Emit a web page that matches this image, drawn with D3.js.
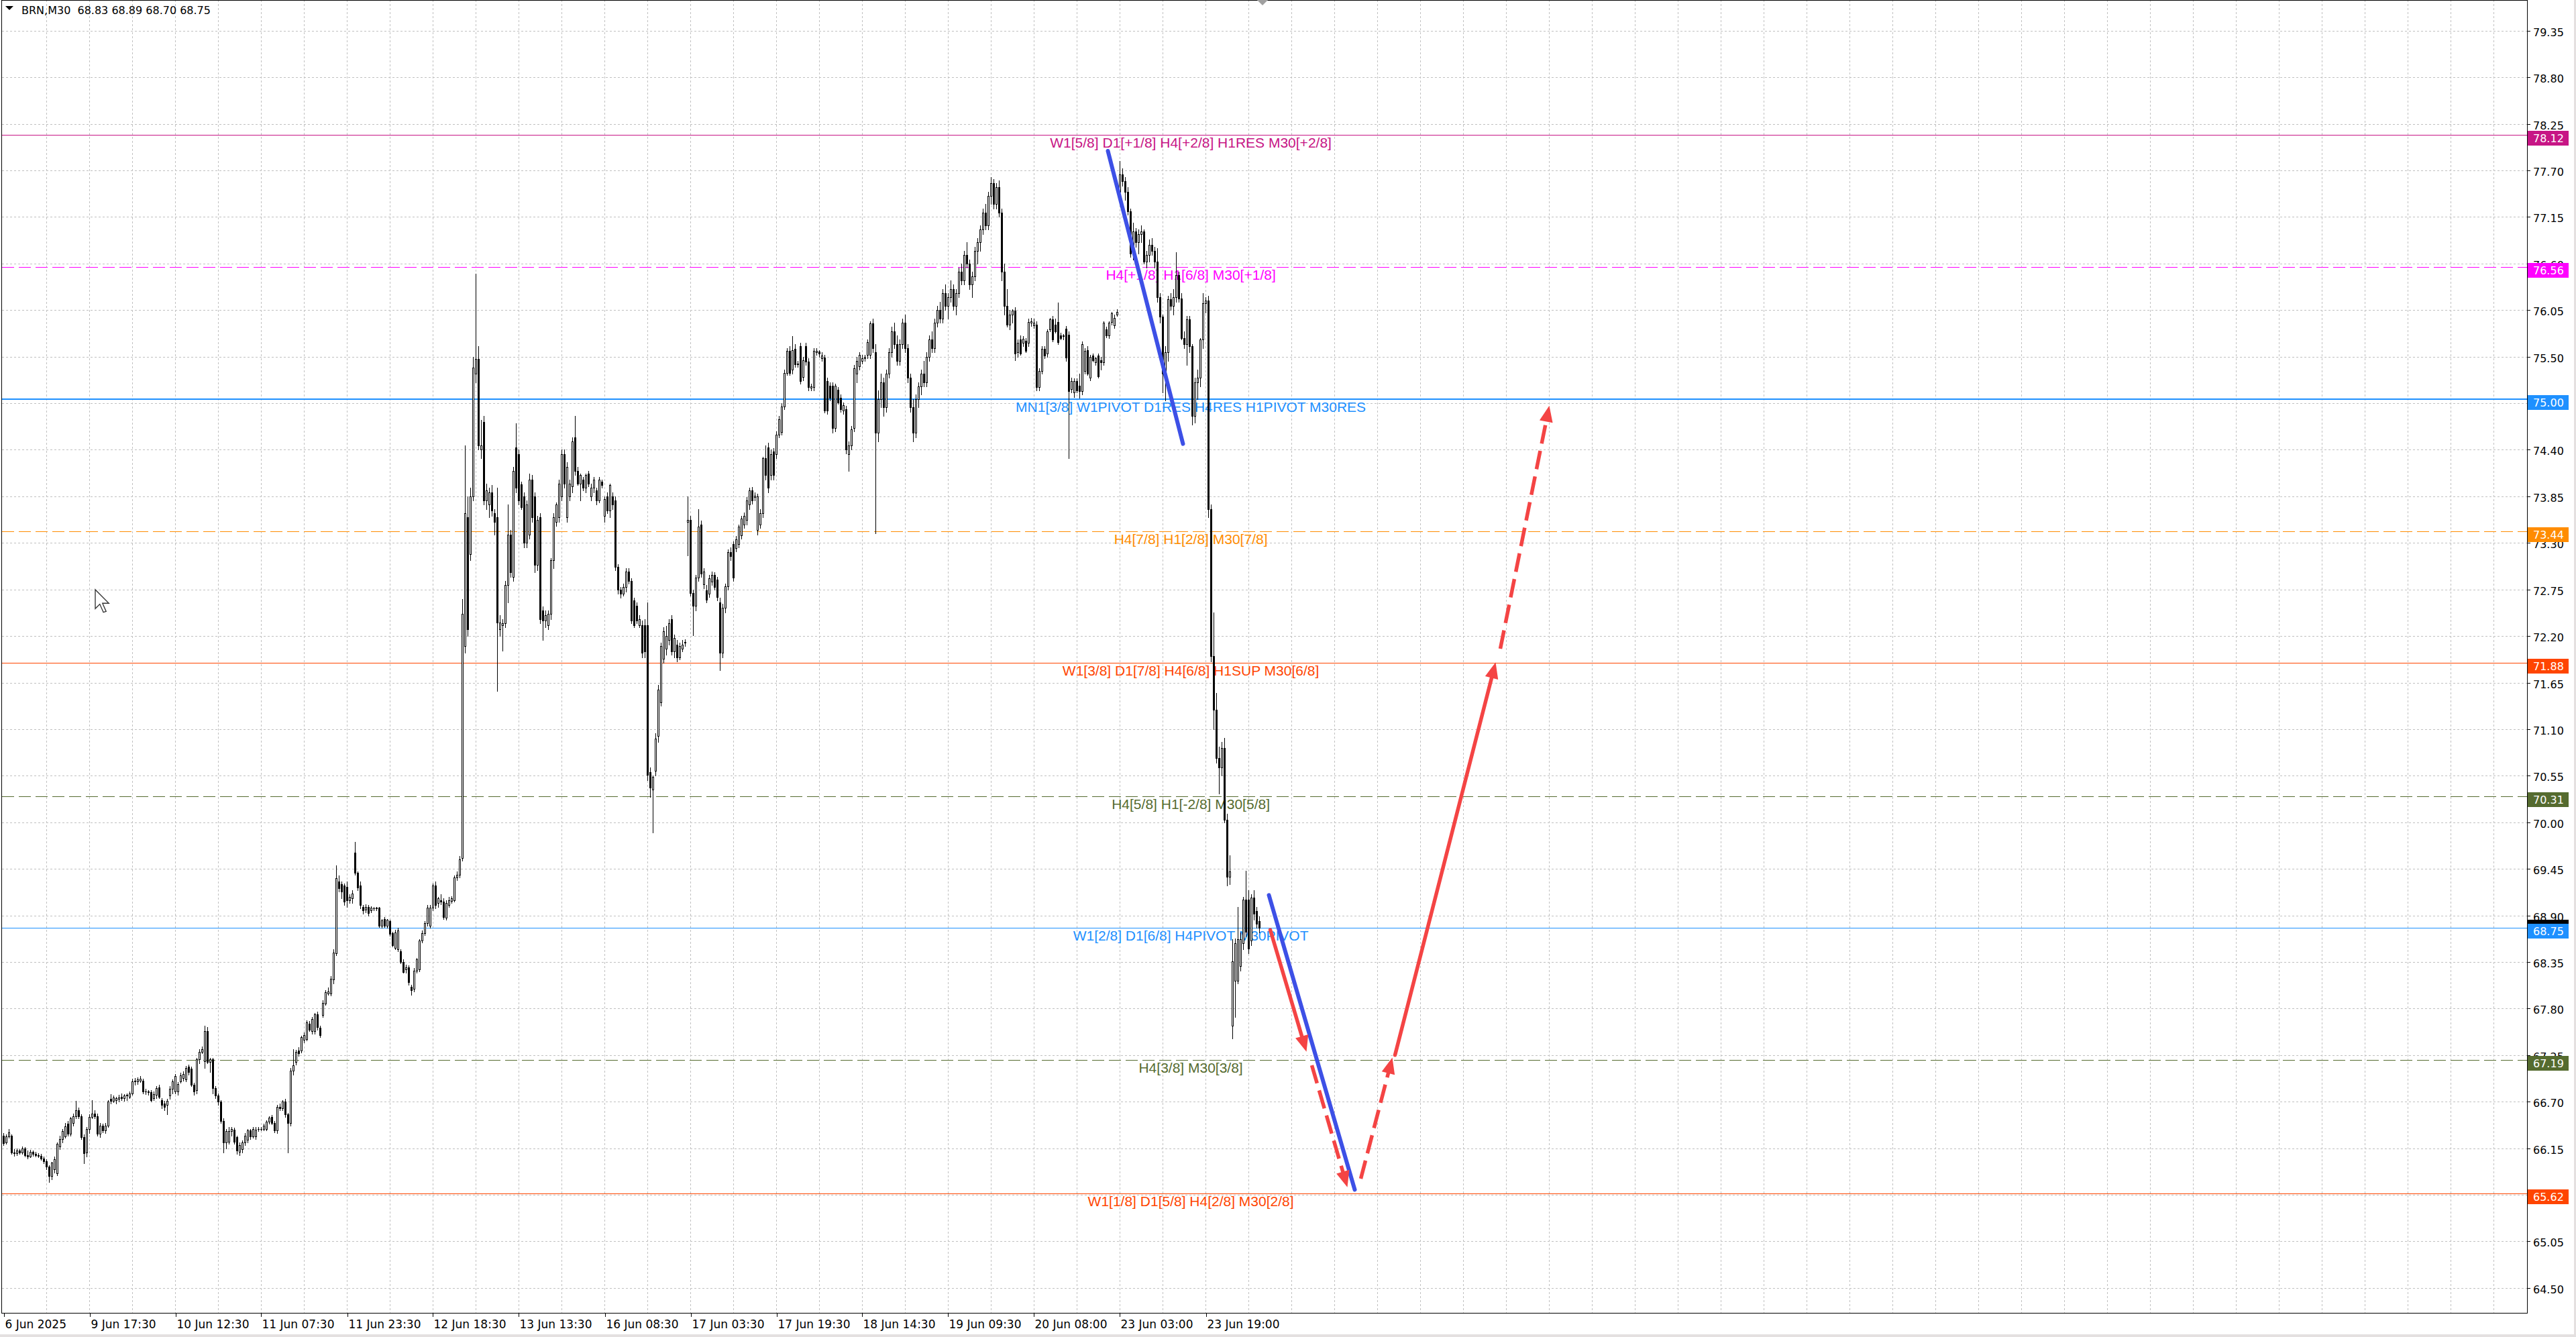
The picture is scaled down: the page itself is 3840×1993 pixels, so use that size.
<!DOCTYPE html>
<html><head><meta charset="utf-8">
<script src="https://cdn.jsdelivr.net/npm/d3@7"></script>
<style>html,body{margin:0;padding:0;background:#fff;overflow:hidden}</style>
</head><body><svg id="c" width="3840" height="1993" xmlns="http://www.w3.org/2000/svg"></svg>
<script>
// ---------------- DATA ----------------
const symbolTitle = "BRN,M30  68.83 68.89 68.70 68.75";
const opens = [
66.30,66.22,66.29,66.30,66.10,66.09,66.12,66.10,66.15,66.07,
66.05,66.11,66.08,66.07,66.06,66.03,66.00,65.93,65.82,65.90,
65.85,66.17,66.26,66.29,66.44,66.32,66.45,66.53,66.60,66.53,
66.28,66.10,66.38,66.52,66.56,66.53,66.32,66.42,66.36,66.42,
66.73,66.71,66.72,66.73,66.76,66.74,66.77,66.76,66.80,66.94,
66.94,66.95,66.95,66.82,66.82,66.81,66.74,66.78,66.87,66.72,
66.68,66.66,66.77,66.85,66.82,66.82,66.94,66.98,66.96,67.11,
67.09,66.90,66.84,67.20,67.29,67.18,67.53,67.17,67.20,66.86,
66.77,66.70,66.47,66.22,66.23,66.35,66.37,66.28,66.11,66.14,
66.22,66.25,66.36,66.29,66.29,66.38,66.38,66.38,66.38,66.46,
66.52,66.45,66.36,66.64,66.62,66.70,66.55,66.45,67.07,67.17,
67.30,67.30,67.43,67.44,67.62,67.53,67.53,67.73,67.57,67.72,
67.86,67.98,67.98,68.14,68.45,69.30,69.27,69.25,69.24,69.08,
69.10,69.64,69.40,69.25,69.00,68.97,69.00,68.96,68.98,68.98,
68.99,68.78,68.86,68.78,68.83,68.69,68.52,68.50,68.48,68.35,
68.26,68.29,68.06,68.03,68.25,68.26,68.60,68.69,68.81,68.78,
68.99,69.25,69.05,69.08,69.06,68.87,69.02,69.07,69.08,69.35,
69.38,69.58,72.08,73.60,73.17,73.85,75.30,75.47,74.40,74.73,
73.80,73.75,73.90,73.65,73.60,72.28,72.33,72.35,72.80,73.40,
72.90,74.43,74.35,73.99,73.85,73.30,73.40,74.05,73.85,73.04,
73.60,72.50,72.38,72.33,72.46,73.10,73.55,73.60,73.85,74.35,
73.60,73.85,73.97,74.55,74.15,74.00,74.05,73.95,74.12,73.85,
73.95,73.92,73.80,74.02,73.62,73.85,73.68,73.85,73.80,73.02,
72.75,72.70,72.78,72.96,72.85,72.62,72.56,72.33,72.33,72.33,
72.33,70.59,70.39,70.61,71.02,71.42,71.93,72.05,72.15,72.40,
72.02,72.10,71.95,72.05,72.12,73.55,73.57,72.71,72.56,72.89,
73.52,72.81,72.74,72.70,72.84,72.92,72.87,72.60,72.00,72.53,
72.79,73.19,73.29,73.24,73.29,73.39,73.52,73.57,73.75,73.92,
73.84,73.45,73.52,73.65,74.30,74.43,74.10,74.38,74.35,74.58,
74.61,74.91,75.31,75.57,75.35,75.59,75.41,75.62,75.26,75.62,
75.44,75.13,75.14,75.55,75.56,75.48,75.49,75.21,75.16,75.16,
74.66,75.11,75.01,74.86,74.88,74.35,74.45,74.66,75.30,75.39,
75.45,75.48,75.52,75.52,75.89,75.55,74.60,75.00,75.20,74.90,
75.30,75.55,75.80,75.65,75.45,75.65,75.90,75.60,75.25,74.90,
74.60,75.00,75.15,75.30,75.20,75.50,75.70,75.60,75.90,76.05,
75.95,76.25,76.10,76.20,76.30,76.10,76.25,76.50,76.40,76.70,
76.60,76.35,76.45,76.75,76.85,77.00,77.20,77.05,77.40,77.55,
77.30,77.50,77.20,76.50,76.10,75.88,76.00,76.04,75.55,75.70,
75.66,75.69,75.66,75.90,75.87,75.88,75.14,75.33,75.59,75.54,
75.82,75.94,75.88,75.91,75.75,75.74,75.83,75.76,75.12,75.08,
75.21,75.16,75.09,75.33,75.58,75.25,75.51,75.43,75.51,75.46,
75.43,75.82,75.75,75.91,75.87,76.00,77.45,77.65,77.57,77.45,
77.22,76.72,76.98,76.85,76.95,76.98,76.62,76.70,76.82,76.75,
76.62,76.20,75.97,75.30,75.55,76.18,76.10,76.20,76.46,76.19,
75.72,75.65,75.94,75.62,74.80,75.20,75.25,75.70,76.13,76.16,
73.70,71.96,71.33,70.76,70.65,70.88,70.03,69.36,67.60,68.13,
68.13,68.30,68.57,69.09,69.09,68.60,69.11,68.95,68.83];
const highs = [
66.33,66.31,66.38,66.31,66.14,66.15,66.14,66.17,66.16,66.12,
66.13,66.12,66.11,66.09,66.08,66.05,66.02,65.95,65.99,66.05,
66.22,66.30,66.38,66.45,66.47,66.52,66.56,66.71,66.63,66.55,
66.31,66.40,66.55,66.72,66.60,66.56,66.45,66.44,66.45,66.72,
66.79,66.77,66.76,66.78,66.80,66.79,66.80,66.82,66.97,66.98,
66.99,67.00,66.97,66.85,66.84,66.84,66.82,66.88,66.90,66.74,
66.71,66.73,66.88,66.96,67.03,66.93,67.04,67.06,67.12,67.14,
67.11,66.92,67.22,67.32,67.35,67.60,67.58,67.22,67.22,66.88,
66.80,66.72,66.50,66.38,66.40,66.40,66.39,66.30,66.22,66.24,
66.33,66.38,66.38,66.40,66.40,66.40,66.40,66.44,66.48,66.53,
66.54,66.47,66.66,66.68,66.72,66.73,66.57,67.10,67.32,67.31,
67.34,67.48,67.52,67.66,67.65,67.70,67.75,67.76,67.60,67.90,
68.02,68.05,68.18,68.50,69.49,69.37,69.30,69.28,69.30,69.15,
69.20,69.77,69.42,69.30,69.02,69.03,69.02,69.01,69.00,69.00,
69.00,68.86,68.88,68.86,68.85,68.71,68.73,68.75,68.50,68.38,
68.32,68.31,68.08,68.28,68.40,68.62,68.72,68.83,69.02,69.02,
69.28,69.30,69.12,69.15,69.10,69.08,69.12,69.13,69.37,69.42,
69.60,72.64,74.45,73.85,73.95,75.50,76.48,75.62,74.75,74.80,
74.00,73.95,73.98,73.70,73.95,72.45,72.40,72.85,73.75,73.45,
74.20,74.71,74.40,74.02,73.90,73.80,74.12,74.10,73.90,73.62,
73.65,72.55,72.50,72.50,73.12,73.65,73.78,74.05,74.40,74.40,
74.25,74.05,74.55,74.80,74.20,74.12,74.08,74.12,74.15,74.00,
74.08,73.95,74.08,74.05,73.85,73.90,74.00,73.90,73.85,73.05,
72.78,72.82,73.00,73.00,72.88,72.65,72.60,72.45,72.38,72.40,
72.60,70.65,70.55,71.05,71.62,72.12,72.30,72.32,72.40,72.45,
72.22,72.15,72.12,72.15,72.16,73.85,73.62,72.75,72.92,73.70,
73.56,73.00,72.80,72.92,72.96,72.95,72.90,72.65,72.58,72.82,
73.22,73.25,73.32,73.38,73.52,73.62,73.66,73.84,73.95,73.96,
73.90,73.88,73.70,74.32,74.45,74.48,74.40,74.42,74.62,74.80,
74.95,75.35,75.60,75.62,75.74,75.65,75.45,75.66,75.50,75.66,
75.48,75.18,75.60,75.60,75.58,75.55,75.52,75.25,75.20,75.20,
75.18,75.14,75.05,74.96,74.92,74.50,74.68,75.40,75.50,75.55,
75.52,75.52,75.70,75.92,75.95,75.65,75.10,75.30,75.25,75.35,
75.60,75.85,75.90,75.75,75.70,75.95,76.00,75.65,75.30,75.00,
75.05,75.20,75.35,75.45,75.55,75.75,75.80,75.95,76.10,76.15,
76.30,76.35,76.25,76.40,76.35,76.30,76.55,76.60,76.75,76.85,
76.65,76.50,76.80,76.90,77.05,77.25,77.30,77.45,77.62,77.60,
77.55,77.58,77.25,76.60,76.30,76.05,76.06,76.08,75.70,75.75,
75.74,75.72,75.95,75.96,75.95,75.92,75.36,75.62,75.62,75.82,
75.96,75.98,75.95,76.14,75.78,75.77,75.86,75.80,75.25,75.24,
75.24,75.30,75.68,75.60,75.62,75.52,75.54,75.50,75.54,75.50,
75.92,75.85,75.92,76.03,76.00,76.06,77.81,77.72,77.62,77.50,
77.25,77.08,77.02,77.00,77.05,77.00,76.75,76.88,76.90,76.80,
76.78,76.25,76.00,75.62,76.22,76.25,76.30,76.73,76.50,76.25,
75.80,75.98,75.98,75.65,75.25,75.35,75.72,76.25,76.20,76.22,
73.75,72.48,71.53,70.89,70.95,71.00,70.10,69.61,68.62,68.63,
69.00,68.70,69.12,69.43,69.20,69.15,69.20,69.00,68.89];
const lows = [
66.19,66.20,66.27,66.08,66.06,66.07,66.08,66.08,66.05,66.03,
66.04,66.06,66.05,66.04,66.01,65.97,65.90,65.75,65.78,65.86,
65.83,66.14,66.22,66.27,66.30,66.30,66.42,66.50,66.50,66.26,
65.97,66.05,66.33,66.50,66.50,66.30,66.28,66.34,66.33,66.40,
66.68,66.69,66.68,66.70,66.72,66.71,66.72,66.74,66.78,66.90,
66.91,66.93,66.80,66.79,66.78,66.70,66.72,66.74,66.74,66.62,
66.60,66.55,66.73,66.80,66.80,66.78,66.92,66.95,66.94,67.02,
66.88,66.78,66.80,67.15,67.27,67.10,67.15,67.05,66.80,66.74,
66.66,66.45,66.10,66.15,66.20,66.30,66.20,66.08,66.07,66.10,
66.19,66.22,66.26,66.27,66.26,66.35,66.36,66.36,66.36,66.44,
66.43,66.34,66.33,66.60,66.60,66.52,66.10,66.42,67.02,67.14,
67.24,67.28,67.40,67.42,67.53,67.50,67.50,67.55,67.46,67.70,
67.84,67.96,67.95,68.10,68.43,69.18,69.10,69.02,69.00,69.05,
69.05,69.38,69.20,68.98,68.92,68.94,68.90,68.94,68.96,68.96,
68.76,68.75,68.76,68.75,68.66,68.53,68.50,68.48,68.33,68.22,
68.22,68.08,67.96,68.00,68.22,68.24,68.58,68.67,68.78,68.75,
68.96,68.98,69.00,69.03,68.86,68.85,69.00,69.05,69.06,69.32,
69.35,69.55,72.00,72.20,73.10,73.80,75.20,74.40,74.30,73.75,
73.70,73.60,73.62,73.40,71.55,72.20,72.03,72.30,72.60,72.90,
72.85,73.90,73.75,73.70,73.25,73.25,73.35,73.55,72.95,72.98,
72.35,72.15,72.30,72.28,72.40,73.00,73.50,73.55,73.80,73.95,
73.55,73.80,73.90,74.10,73.98,73.80,73.92,73.90,73.97,73.80,
73.90,73.75,73.78,73.95,73.55,73.65,73.60,73.70,72.98,72.70,
72.65,72.68,72.72,72.82,72.35,72.30,72.35,72.30,71.95,71.95,
70.50,70.30,69.88,70.55,70.95,71.38,71.88,71.98,72.10,71.98,
71.95,71.90,71.92,72.02,72.08,73.15,72.68,72.21,72.50,72.85,
72.90,72.76,72.60,72.66,72.80,72.75,72.62,71.80,71.95,72.48,
72.75,73.10,72.85,73.20,73.25,73.35,73.48,73.52,73.70,73.76,
73.80,73.40,73.48,73.60,74.05,73.90,74.05,74.05,74.30,74.55,
74.58,74.88,75.28,75.28,75.30,75.38,75.38,75.18,75.22,75.40,
75.10,75.10,75.10,75.52,75.50,75.45,74.84,74.82,74.98,74.60,
74.62,74.94,74.85,74.82,74.36,74.15,74.40,74.62,75.20,75.35,
75.42,75.45,75.48,75.48,75.55,73.41,74.50,74.90,74.80,74.85,
75.25,75.50,75.60,75.40,75.40,75.60,75.55,75.20,74.85,74.50,
74.55,74.90,75.05,75.15,75.15,75.45,75.55,75.55,75.85,75.90,
75.90,76.05,75.95,76.15,76.05,76.00,76.20,76.35,76.35,76.55,
76.30,76.20,76.40,76.60,76.75,76.95,77.00,77.00,77.30,77.25,
77.25,77.15,76.40,76.00,75.85,75.82,75.90,75.46,75.50,75.52,
75.62,75.55,75.62,75.86,75.84,75.10,75.10,75.30,75.48,75.50,
75.80,75.68,75.78,75.65,75.70,75.70,75.45,74.30,75.08,75.02,
75.08,75.01,75.05,75.30,75.28,75.22,75.44,75.40,75.25,75.35,
75.40,75.73,75.72,75.88,75.84,75.98,77.40,77.52,77.35,77.18,
76.68,76.65,76.80,76.72,76.85,76.60,76.55,76.62,76.70,76.55,
76.15,75.90,75.08,74.98,75.45,76.05,76.00,76.15,76.15,75.70,
75.60,75.40,75.55,74.70,74.72,75.00,75.15,75.60,76.02,73.60,
71.90,71.10,70.70,70.34,70.55,70.00,69.25,69.27,67.45,67.70,
68.10,68.25,68.50,68.65,68.45,68.55,68.85,68.75,68.70];
const closes = [
66.21,66.29,66.34,66.10,66.09,66.12,66.10,66.15,66.07,66.05,
66.11,66.08,66.07,66.06,66.03,66.00,65.93,65.82,65.98,66.02,
66.20,66.26,66.35,66.41,66.32,66.50,66.53,66.60,66.53,66.28,
66.09,66.38,66.52,66.56,66.53,66.32,66.42,66.36,66.42,66.70,
66.71,66.75,66.74,66.75,66.74,66.77,66.78,66.80,66.94,66.95,
66.96,66.97,66.82,66.82,66.81,66.72,66.79,66.86,66.76,66.66,
66.64,66.71,66.85,66.94,67.00,66.91,67.01,67.03,67.10,67.05,
66.90,66.82,67.20,67.29,67.32,67.53,67.17,67.20,66.86,66.77,
66.70,66.47,66.22,66.35,66.35,66.38,66.23,66.12,66.19,66.22,
66.30,66.36,66.29,66.38,66.37,66.38,66.38,66.42,66.46,66.51,
66.45,66.36,66.64,66.62,66.70,66.55,66.45,67.07,67.13,67.29,
67.27,67.46,67.49,67.64,67.55,67.68,67.73,67.58,67.49,67.87,
67.99,68.00,68.15,68.46,69.34,69.22,69.18,69.06,69.08,69.12,
69.16,69.40,69.23,69.02,68.96,69.00,68.93,68.99,68.98,68.99,
68.78,68.84,68.78,68.85,68.68,68.55,68.70,68.72,68.35,68.23,
68.29,68.11,68.02,68.25,68.38,68.60,68.69,68.81,68.99,68.99,
69.25,69.02,69.10,69.06,68.88,69.05,69.08,69.10,69.35,69.38,
69.56,72.46,73.65,72.28,73.85,75.37,75.47,74.45,74.45,73.80,
73.92,73.90,73.68,73.55,72.36,72.36,72.35,72.80,73.40,72.95,
74.15,73.95,73.80,73.72,73.30,73.75,74.05,73.60,73.04,73.57,
72.40,72.38,72.45,72.46,73.10,73.60,73.75,74.00,74.35,74.00,
74.20,74.00,74.50,74.15,74.00,74.10,73.95,74.10,74.00,73.95,
74.05,73.80,74.05,73.98,73.82,73.68,73.98,73.75,73.02,72.75,
72.70,72.78,72.96,72.85,72.38,72.33,72.38,72.40,72.00,72.02,
70.56,70.41,70.54,70.99,71.57,72.08,72.26,72.20,72.35,72.02,
72.18,71.95,72.08,72.10,72.13,73.57,72.71,72.56,72.89,73.49,
72.94,72.96,72.63,72.88,72.92,72.78,72.66,72.00,72.53,72.79,
73.19,73.14,72.89,73.34,73.49,73.59,73.62,73.80,73.92,73.80,
73.86,73.85,73.65,74.30,74.10,73.95,74.35,74.10,74.58,74.76,
74.91,75.31,75.57,75.31,75.58,75.41,75.42,75.21,75.46,75.44,
75.14,75.15,75.57,75.57,75.54,75.51,74.86,74.86,75.01,74.66,
75.16,74.96,74.88,74.93,74.40,74.45,74.64,75.36,75.45,75.52,
75.48,75.50,75.67,75.89,75.60,74.60,75.00,75.20,74.90,75.30,
75.55,75.80,75.65,75.45,75.65,75.90,75.60,75.25,74.90,74.60,
75.00,75.15,75.30,75.20,75.50,75.70,75.60,75.90,76.05,75.95,
76.25,76.10,76.20,76.30,76.10,76.25,76.50,76.40,76.70,76.60,
76.35,76.45,76.75,76.85,77.00,77.20,77.05,77.40,77.55,77.30,
77.50,77.20,76.50,76.10,75.88,76.00,76.04,75.54,75.66,75.54,
75.71,75.57,75.91,75.92,75.90,75.14,75.33,75.59,75.51,75.80,
75.94,75.70,75.80,75.67,75.72,75.75,75.49,75.09,75.21,75.21,
75.10,75.09,75.65,75.57,75.30,75.50,75.46,75.48,75.27,75.43,
75.90,75.75,75.90,76.01,75.96,76.03,77.65,77.57,77.45,77.22,
76.72,76.98,76.85,76.95,76.98,76.62,76.70,76.82,76.75,76.62,
76.20,75.97,75.30,75.55,76.18,76.10,76.20,76.46,76.19,75.72,
75.65,75.94,75.62,74.80,75.20,75.25,75.70,76.13,76.16,73.70,
71.96,71.33,70.76,70.65,70.88,70.03,69.36,69.42,68.36,68.57,
68.62,68.62,69.09,68.71,68.51,69.11,68.92,68.80,68.75];

const timeLabels = ["6 Jun 2025","9 Jun 17:30","10 Jun 12:30","11 Jun 07:30","11 Jun 23:30",
  "12 Jun 18:30","13 Jun 13:30","16 Jun 08:30","17 Jun 03:30","17 Jun 19:30",
  "18 Jun 14:30","19 Jun 09:30","20 Jun 08:00","23 Jun 03:00","23 Jun 19:00"];
const timeLabelBars = [0,32,64,96,128,160,192,224,256,288,320,352,384,416,448];
const priceTicks = [79.35,78.80,78.25,77.70,77.15,76.60,76.05,75.50,74.95,74.40,73.85,73.30,
  72.75,72.20,71.65,71.10,70.55,70.00,69.45,68.90,68.35,67.80,67.25,66.70,66.15,65.60,65.05,64.50];

const levelPrices = [78.12,76.56,75.00,73.44,71.88,70.31,68.75,67.19,65.62];
const levelTexts = [
  "W1[5/8] D1[+1/8] H4[+2/8] H1RES M30[+2/8]",
  "H4[+1/8] H1[6/8] M30[+1/8]",
  "MN1[3/8] W1PIVOT D1RES H4RES H1PIVOT M30RES",
  "H4[7/8] H1[2/8] M30[7/8]",
  "W1[3/8] D1[7/8] H4[6/8] H1SUP M30[6/8]",
  "H4[5/8] H1[-2/8] M30[5/8]",
  "W1[2/8] D1[6/8] H4PIVOT M30PIVOT",
  "H4[3/8] M30[3/8]",
  "W1[1/8] D1[5/8] H4[2/8] M30[2/8]"];
const currentPrice = 68.75;

// forecast lines: [barFrom, priceFrom, barTo, priceTo]
const blueLines = [[411.5,77.93,439.5,74.47],[471.5,69.14,503.5,65.66]];
const redArrows = [[472,68.73,485.5,67.29],[487.5,67.13,500.75,65.69],[505.75,65.79,517.5,67.22],
  [518.5,67.25,556,71.89],[557.75,72.05,576,74.92]];
const redDashed = [false,true,true,false,true];

// ---------------- STYLES ----------------
const levelColors = ["#C71585","#FF00FF","#1E90FF","#FF8C00","#FF4500","#556B2F","#1E90FF","#556B2F","#FF4500"];
const levelDash = [false,true,false,true,false,true,false,true,false];
const levelWidth = [1,1,2,1,1,1,1,1,1];

// ---------------- LAYOUT ----------------
const W=3840, H=1993, plotR=3767, plotB=1957;
const x = d3.scaleLinear().domain([0,940]).range([5.5,3765.5]);
const y = d3.scaleLinear().domain([64.2056,79.7127]).range([plotB,0]);
const labelBar = 442.4;
const px = v => Math.round(v)+0.5;

const svg = d3.select("#c");
svg.append("rect").attr("width",W).attr("height",H).attr("fill","#fff");

const g = svg.append("g");
// grid
priceTicks.forEach(t=>{
  g.append("line").attr("x1",3).attr("x2",plotR).attr("y1",px(y(t))).attr("y2",px(y(t)))
    .attr("stroke","#C0C0C0").attr("stroke-width",1).attr("stroke-dasharray","3,3");
});
for(let b=16;x(b)<plotR;b+=16){
  g.append("line").attr("x1",x(b)).attr("x2",x(b)).attr("y1",0).attr("y2",plotB)
   .attr("stroke","#C0C0C0").attr("stroke-width",1).attr("stroke-dasharray","3,3");
}

// level lines
levelPrices.forEach((p,k)=>{
  const yy = levelWidth[k]===2 ? Math.round(y(p)) : px(y(p));
  g.append("line").attr("x1",3).attr("x2",plotR).attr("y1",yy).attr("y2",yy)
   .attr("stroke",levelColors[k]).attr("stroke-width",levelWidth[k])
   .attr("stroke-dasharray",levelDash[k]?"18,7":null);
});
// level labels
levelPrices.forEach((p,k)=>{
  g.append("text").attr("x",x(labelBar)).attr("y",y(p)+19)
   .attr("text-anchor","middle").attr("font-family","'Liberation Sans',Arial,sans-serif")
   .attr("font-size",21).attr("fill",levelColors[k]).text(levelTexts[k]);
});

// candles
const cg = g.append("g");
closes.forEach((c,i)=>{
  const o=opens[i], hi=highs[i], lo=lows[i];
  const cx = x(i);
  cg.append("line").attr("x1",cx).attr("x2",cx).attr("y1",Math.round(y(hi))).attr("y2",Math.round(y(lo))+1)
    .attr("stroke","#000").attr("stroke-width",1);
  const top = Math.round(y(Math.max(o,c))), bot = Math.round(y(Math.min(o,c)));
  if(bot-top<1){
    cg.append("line").attr("x1",cx-1.5).attr("x2",cx+1.5).attr("y1",top+0.5).attr("y2",top+0.5)
      .attr("stroke","#000").attr("stroke-width",1);
  } else {
    cg.append("rect").attr("x",cx-1).attr("y",top+0.5).attr("width",2).attr("height",bot-top)
      .attr("fill", c>=o ? "#fff" : "#000").attr("stroke","#000").attr("stroke-width",1);
  }
});

// forecast lines
const fg = g.append("g");
blueLines.forEach(d=>{
  fg.append("line").attr("x1",x(d[0])).attr("y1",y(d[1])).attr("x2",x(d[2])).attr("y2",y(d[3]))
    .attr("stroke","#3D50E6").attr("stroke-width",6).attr("stroke-linecap","round");
});
redArrows.forEach((d,k)=>{
  const x1=x(d[0]), y1=y(d[1]), x2=x(d[2]), y2=y(d[3]);
  const len=Math.hypot(x2-x1,y2-y1), ux=(x2-x1)/len, uy=(y2-y1)/len;
  const L=24, HW=10;
  const bx=x2-ux*L, by=y2-uy*L;
  fg.append("line").attr("x1",x1).attr("y1",y1).attr("x2",bx+ux*2).attr("y2",by+uy*2)
    .attr("stroke","#F44444").attr("stroke-width",5.5)
    .attr("stroke-linecap",redDashed[k]?"butt":"round")
    .attr("stroke-dasharray",redDashed[k]?"28,11":null);
  fg.append("path").attr("d",`M${x2},${y2}L${bx-uy*HW},${by+ux*HW}L${bx+uy*HW},${by-ux*HW}Z`)
    .attr("fill","#F44444");
});

// mouse pointer
svg.append("path").attr("transform","translate(142,879) scale(1.35)")
  .attr("d","M0,0 L0,21 L5,16 L9,25 L12,24 L8,15 L15,15 Z")
  .attr("fill","#fff").attr("stroke","#333").attr("stroke-width",1);

// borders / axes
svg.append("line").attr("x1",2.5).attr("x2",2.5).attr("y1",0).attr("y2",plotB).attr("stroke","#000");
svg.append("line").attr("x1",2).attr("x2",plotR).attr("y1",0.5).attr("y2",0.5).attr("stroke","#000");
svg.append("line").attr("x1",plotR+0.5).attr("x2",plotR+0.5).attr("y1",0).attr("y2",plotB+0.5).attr("stroke","#000");
svg.append("line").attr("x1",2).attr("x2",plotR+1).attr("y1",plotB+0.5).attr("y2",plotB+0.5).attr("stroke","#000");
svg.append("rect").attr("x",0).attr("y",1989).attr("width",W).attr("height",4).attr("fill","#E4E0E0");
svg.append("rect").attr("x",3837).attr("y",0).attr("width",3).attr("height",H).attr("fill","#E4E0E0");
svg.append("path").attr("d","M1874,0 L1890,0 L1882,8 Z").attr("fill","#A0A0A0");

// price axis
const axisFont = "'DejaVu Sans',Verdana,sans-serif";
priceTicks.forEach(t=>{
  const yy=px(y(t));
  svg.append("line").attr("x1",plotR).attr("x2",plotR+5).attr("y1",yy).attr("y2",yy).attr("stroke","#000");
  svg.append("text").attr("x",3776).attr("y",yy+7).attr("font-family",axisFont).attr("font-size",16)
    .attr("fill","#000").text(t.toFixed(2));
});
// current price (black) tag under level tag
svg.append("rect").attr("x",plotR+1).attr("y",Math.round(y(currentPrice))-12).attr("width",61).attr("height",22).attr("fill","#000");
// level tags
levelPrices.forEach((p,k)=>{
  const yy=Math.round(y(p));
  svg.append("rect").attr("x",plotR+1).attr("y",yy-6).attr("width",61).attr("height",22).attr("fill",levelColors[k]);
  svg.append("text").attr("x",3776).attr("y",yy+11).attr("font-family",axisFont).attr("font-size",16)
    .attr("fill","#fff").text(p.toFixed(2));
});

// time axis
timeLabelBars.forEach((b,k)=>{
  const xx=Math.round(x(b))+0.5;
  svg.append("line").attr("x1",xx).attr("x2",xx).attr("y1",plotB).attr("y2",plotB+6).attr("stroke","#000");
  svg.append("text").attr("x",xx+1).attr("y",1980).attr("font-family",axisFont).attr("font-size",17)
    .attr("fill","#000").text(timeLabels[k]);
});

// header
svg.append("path").attr("d","M8,9 L20,9 L14,15 Z").attr("fill","#000");
svg.append("text").attr("x",32).attr("y",21).attr("font-family",axisFont).attr("font-size",16)
  .attr("fill","#000").attr("xml:space","preserve").style("white-space","pre").text(symbolTitle);
</script>
</body></html>
